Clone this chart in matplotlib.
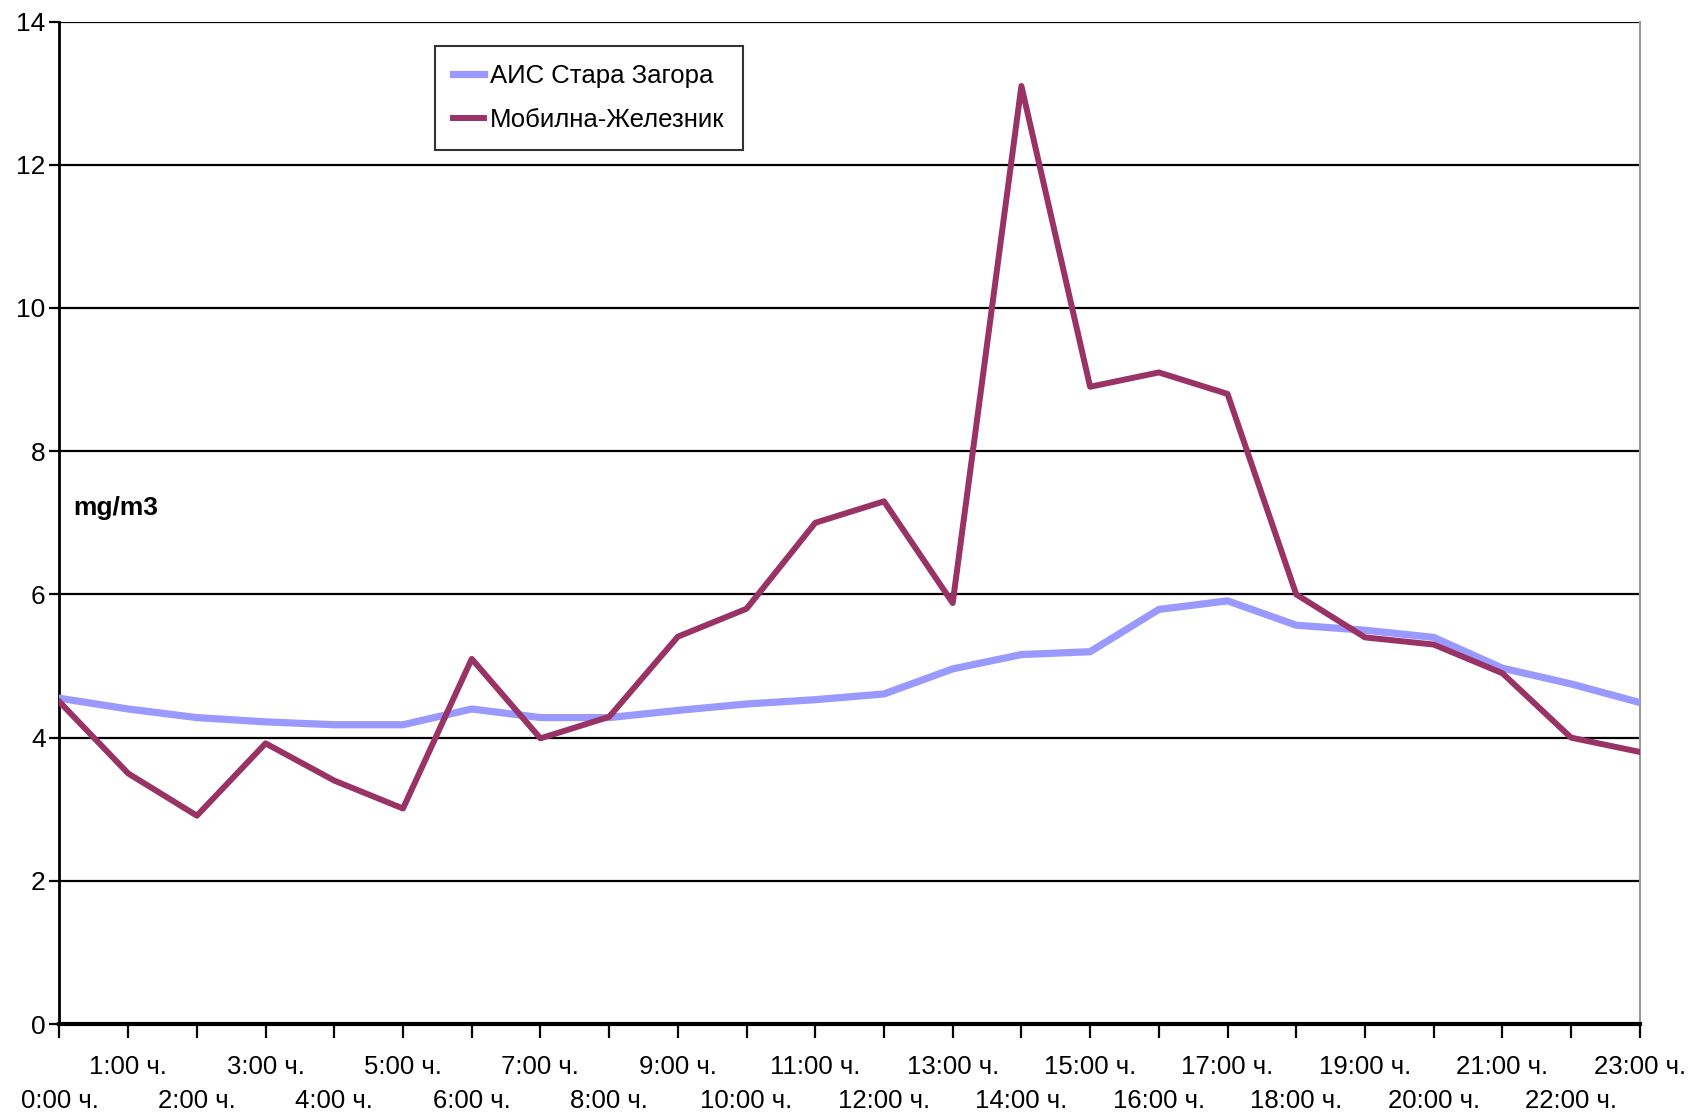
import matplotlib
matplotlib.use("Agg")
import matplotlib.pyplot as plt
from matplotlib.ticker import FixedLocator, FixedFormatter

hours = [f"{h}:00 ч." for h in range(24)]
ais_stara_zagora = [4.55, 4.40, 4.28, 4.22, 4.18, 4.18, 4.40, 4.28, 4.28, 4.38, 4.47, 4.53,
                    4.61, 4.96, 5.16, 5.20, 5.79, 5.91, 5.57, 5.50, 5.40, 4.97, 4.75, 4.49]
mobilna_zheleznik = [4.50, 3.50, 2.91, 3.92, 3.40, 3.01, 5.10, 3.99, 4.29, 5.41, 5.80, 7.00,
                     7.30, 5.88, 13.10, 8.90, 9.10, 8.80, 6.00, 5.40, 5.30, 4.90, 4.00, 3.80]
series_names = ["АИС Стара Загора", "Мобилна-Железник"]
y_ticks = [0, 2, 4, 6, 8, 10, 12, 14]
unit_label = "mg/m3"

plt.rcParams['font.family'] = ['Liberation Sans', 'DejaVu Sans']

fig = plt.figure(figsize=(16.94, 11.17), dpi=100)
ax = fig.add_axes([0.0351, 0.0832, 0.968 - 0.0351, 0.9807 - 0.0832])

x = list(range(len(hours)))
ax.plot(x, ais_stara_zagora, color="#9999FF", lw=5.2, label=series_names[0], zorder=3)
ax.plot(x, mobilna_zheleznik, color="#993366", lw=4.3, label=series_names[1], zorder=4)

ax.set_xlim(0, 23)
ax.set_ylim(0, 14)
ax.set_yticks(y_ticks)
ax.set_yticklabels([str(v) for v in y_ticks], fontsize=19)
for v in y_ticks[1:]:
    ax.axhline(v, color="black", lw=1.6, zorder=1)

even = [i for i in x if i % 2 == 0]
odd = [i for i in x if i % 2 == 1]
ax.xaxis.set_major_locator(FixedLocator(even))
ax.xaxis.set_major_formatter(FixedFormatter([hours[i] for i in even]))
ax.xaxis.set_minor_locator(FixedLocator(odd))
ax.xaxis.set_minor_formatter(FixedFormatter([hours[i] for i in odd]))
ax.tick_params(axis='x', which='major', length=10, width=1.6, pad=37, direction='out', labelsize=18.5)
ax.tick_params(axis='x', which='minor', length=10, width=1.6, pad=12, direction='out', labelsize=18.5)
ax.tick_params(axis='y', length=7, width=1.6, pad=3, direction='out')

ax.spines["top"].set_visible(False)
ax.spines["right"].set_color("#999999")
ax.spines["right"].set_linewidth(1.5)
ax.spines["left"].set_linewidth(2.0)
ax.spines["bottom"].set_linewidth(3.0)

ax.text(0.2, 7.2, unit_label, fontsize=19, fontweight="bold", ha="left", va="center")

leg = ax.legend(loc="upper left", bbox_to_anchor=(0.2376, 0.9757), borderaxespad=0,
                fontsize=18.5, frameon=True, fancybox=False, edgecolor="black",
                handlelength=1.2, handletextpad=0.25, borderpad=0.7, labelspacing=0.78)
leg.get_frame().set_linewidth(1.5)

fig.savefig("out.png", dpi=100)
